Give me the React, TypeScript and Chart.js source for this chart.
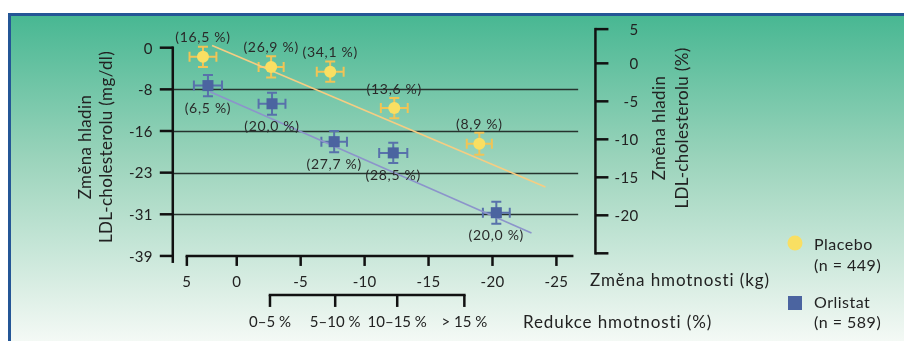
import React, { useEffect, useRef } from "react";
import { Chart, registerables } from "chart.js";

Chart.register(...registerables);

// ---- data ----
const placeboKg = [2.64, -2.69, -7.31, -12.32, -18.97];
const placeboLdl = [-1.7, -3.6, -4.5, -11.3, -18.0];
const placeboKgErr = [1.05, 0.98, 1.05, 1.05, 0.98];
const placeboLdlErr = [1.9, 2.0, 1.9, 1.9, 2.05];
const placeboLabels = ["(16,5 %)", "(26,9 %)", "(34,1 %)", "(13,6 %)", "(8,9 %)"];

const orlistatKg = [2.25, -2.76, -7.62, -12.24, -20.3];
const orlistatLdl = [-7.1, -10.5, -17.6, -19.7, -30.9];
const orlistatKgErr = [1.1, 1.05, 1.0, 1.1, 1.05];
const orlistatLdlErr = [2.0, 2.05, 2.0, 1.9, 2.05];
const orlistatLabels = ["(6,5 %)", "(20,0 %)", "(27,7 %)", "(28,5 %)", "(20,0 %)"];

const placeboTrendKg = [1.93, -24.14];
const placeboTrendLdl = [0.4, -26.1];
const orlistatTrendKg = [2.08, -23.05];
const orlistatTrendLdl = [-8.25, -34.7];

// left axis (mg/dl): evenly spaced ticks
const leftTickStep = 7.8;
const leftTickLabels = ["0", "-8", "-16", "-23", "-31", "-39"];
const gridTickIndices = [1, 2, 3, 4];

// right axis (%)
const rightTickValues = [4.5, 0, -5, -10, -15, -20, -25];
const rightTickLabels = ["5", "0", "-5", "-10", "-15", "-20", ""];

// bottom axis (kg)
const kgTickValues = [3.9, 0, -5, -10, -15, -20, -25];
const kgTickLabels = ["5", "0", "-5", "-10", "-15", "-20", "-25"];
const kgAxisEnd = -26.33;
const leftAxisKg = 5;
const gridEndKg = -26.7;
const rightAxisKg = -28.05;

// weight reduction axis (%), positioned on kg scale
const reductionTickKg = [-2.6, -7.7, -12.55, -17.8];
const reductionLabels = ["0\u20135 %", "5\u201310 %", "10\u201315 %", "> 15 %"];

const legendNames = ["Placebo", "Orlistat"];
const legendCounts = ["(n = 449)", "(n = 589)"];

const FONT = "Lato, 'Open Sans', sans-serif";
const TEXT = "#222";
const YELLOW = "#f9df62";
const YELLOW_BAR = "#f1c455";
const BLUE = "#4b64a0";
const BLUE_BAR = "#5871ab";

export default function App() {
  const ref = useRef<HTMLCanvasElement>(null);

  useEffect(() => {
    document.body.style.margin = "0";
    const canvas = ref.current!;

    const plugin = {
      id: "custom",
      beforeDraw(chart: any) {
        const ctx = chart.ctx;
        ctx.save();
        ctx.fillStyle = "#ffffff";
        ctx.fillRect(0, 0, chart.width, chart.height);
        const g = ctx.createLinearGradient(0, 14, 0, chart.height);
        g.addColorStop(0, "#47b792");
        g.addColorStop(0.45, "#9cd4bc");
        g.addColorStop(1, "#f4f9f5");
        ctx.fillStyle = g;
        ctx.fillRect(9, 14, chart.width - 9, chart.height - 14);
        ctx.fillStyle = "#245696";
        ctx.fillRect(8, 13, chart.width - 8, 3);
        ctx.fillRect(8, 13, 3, chart.height - 13);
        ctx.restore();
      },
      beforeDatasetsDraw(chart: any) {
        const ctx = chart.ctx;
        const xs = chart.scales.x, ys = chart.scales.y;
        const X = (v: number) => xs.getPixelForValue(v);
        const Y = (v: number) => ys.getPixelForValue(v);
        ctx.save();
        // grid lines
        ctx.strokeStyle = "#26332e";
        ctx.lineWidth = 1.5;
        gridTickIndices.forEach((i) => {
          const y = Math.round(Y(-i * leftTickStep)) + 0.5;
          ctx.beginPath();
          ctx.moveTo(X(leftAxisKg), y);
          ctx.lineTo(X(gridEndKg), y);
          ctx.stroke();
        });
        // error bars
        const drawErr = (kg: number[], ldl: number[], kErr: number[], lErr: number[], color: string) => {
          ctx.strokeStyle = color;
          ctx.lineWidth = 2;
          const cap = 5;
          kg.forEach((k, i) => {
            const cx = X(k), cy = Y(ldl[i]);
            const x1 = X(k + kErr[i]), x2 = X(k - kErr[i]);
            const y1 = Y(ldl[i] + lErr[i]), y2 = Y(ldl[i] - lErr[i]);
            ctx.beginPath();
            ctx.moveTo(x1, cy); ctx.lineTo(x2, cy);
            ctx.moveTo(x1, cy - cap); ctx.lineTo(x1, cy + cap);
            ctx.moveTo(x2, cy - cap); ctx.lineTo(x2, cy + cap);
            ctx.moveTo(cx, y1); ctx.lineTo(cx, y2);
            ctx.moveTo(cx - cap, y1); ctx.lineTo(cx + cap, y1);
            ctx.moveTo(cx - cap, y2); ctx.lineTo(cx + cap, y2);
            ctx.stroke();
          });
        };
        drawErr(placeboKg, placeboLdl, placeboKgErr, placeboLdlErr, YELLOW_BAR);
        drawErr(orlistatKg, orlistatLdl, orlistatKgErr, orlistatLdlErr, BLUE_BAR);
        ctx.restore();
      },
      afterDraw(chart: any) {
        const ctx = chart.ctx;
        const xs = chart.scales.x, ys = chart.scales.y, y2s = chart.scales.y2;
        const X = (v: number) => xs.getPixelForValue(v);
        const Y = (v: number) => ys.getPixelForValue(v);
        const Y2 = (v: number) => y2s.getPixelForValue(v);
        const spacing = (px: number) => { (ctx as any).letterSpacing = `${px}px`; };
        ctx.save();
        ctx.strokeStyle = "#111";
        ctx.fillStyle = TEXT;
        ctx.lineWidth = 2.5;
        ctx.lineCap = "butt";
        const line = (a: number, b: number, c: number, d: number) => {
          ctx.beginPath(); ctx.moveTo(a, b); ctx.lineTo(c, d); ctx.stroke();
        };

        // left axis
        const ax = X(leftAxisKg);
        const yBottom = Y(-39);
        line(ax, Y(0) - 1.25, ax, yBottom + 7);
        ctx.font = `15px ${FONT}`;
        spacing(0.3);
        ctx.textAlign = "right";
        ctx.textBaseline = "middle";
        leftTickLabels.forEach((lab, i) => {
          const y = Y(-i * leftTickStep);
          line(ax - 13, y, ax, y);
          ctx.fillText(lab, ax - 20, y + 1);
        });

        // kg axis
        line(X(kgTickValues[0]) - 1.25, yBottom, X(kgAxisEnd), yBottom);
        ctx.textAlign = "center";
        kgTickValues.forEach((v, i) => {
          const x = X(v);
          line(x, yBottom, x, yBottom + 10);
          ctx.fillText(kgTickLabels[i], x, yBottom + 26);
        });

        // reduction axis
        const ry = yBottom + 39;
        line(X(reductionTickKg[0]) - 1.25, ry, X(reductionTickKg[reductionTickKg.length - 1]) + 1.25, ry);
        spacing(0);
        reductionTickKg.forEach((v, i) => {
          const x = X(v);
          line(x, ry, x, ry + 12);
          ctx.fillText(reductionLabels[i], x, ry + 27);
        });

        // right axis
        spacing(0.3);
        const rx = X(rightAxisKg);
        line(rx, Y2(rightTickValues[0]) - 1.25, rx, Y2(rightTickValues[rightTickValues.length - 1]) + 1.25);
        ctx.textAlign = "right";
        rightTickValues.forEach((v, i) => {
          const y = Y2(v);
          line(rx, y, rx + 13, y);
          if (rightTickLabels[i]) ctx.fillText(rightTickLabels[i], rx + 43, y + 1);
        });

        // axis titles
        ctx.font = `17px ${FONT}`;
        spacing(0.9);
        ctx.textAlign = "left";
        ctx.fillText("Změna hmotnosti (kg)", 590, 281);
        ctx.fillText("Redukce hmotnosti (%)", 523, 323);

        const vTitle = (l1: string, l2: string, x1: number, x2: number, cy: number) => {
          ctx.save();
          ctx.translate(x1, cy);
          ctx.rotate(-Math.PI / 2);
          ctx.textAlign = "center";
          ctx.fillText(l1, 0, 0);
          ctx.restore();
          ctx.save();
          ctx.translate(x2, cy);
          ctx.rotate(-Math.PI / 2);
          ctx.textAlign = "center";
          ctx.fillText(l2, 0, 0);
          ctx.restore();
        };
        spacing(0.35);
        vTitle("Změna hladin", "LDL-cholesterolu (mg/dl)", 86, 107, 147);
        vTitle("Změna hladin", "LDL-cholesterolu (%)", 660, 683, 128);

        // point labels
        ctx.font = `14px ${FONT}`;
        spacing(0.7);
        ctx.textAlign = "center";
        ctx.fillStyle = "#2a2a2a";
        placeboKg.forEach((k, i) => ctx.fillText(placeboLabels[i], X(k), Y(placeboLdl[i]) - 19));
        orlistatKg.forEach((k, i) => ctx.fillText(orlistatLabels[i], X(k), Y(orlistatLdl[i]) + 23));

        // legend
        ctx.fillStyle = YELLOW;
        ctx.beginPath();
        ctx.arc(795, 243, 7.5, 0, Math.PI * 2);
        ctx.fill();
        ctx.fillStyle = BLUE;
        ctx.fillRect(788, 296, 14, 14);
        ctx.fillStyle = TEXT;
        ctx.font = `16px ${FONT}`;
        spacing(0.5);
        ctx.textAlign = "left";
        ctx.fillText(legendNames[0], 814, 245);
        ctx.fillText(legendCounts[0], 814, 266);
        ctx.fillText(legendNames[1], 814, 303);
        ctx.fillText(legendCounts[1], 814, 323);
        spacing(0);
        ctx.restore();
      },
    };

    const chart = new Chart(canvas, {
      type: "scatter",
      data: {
        datasets: [
          {
            type: "line",
            label: "Placebo trend",
            data: placeboTrendKg.map((k, i) => ({ x: k, y: placeboTrendLdl[i] })),
            borderColor: "#f6cd82",
            borderWidth: 1.6,
            pointRadius: 0,
            fill: false,
            order: 3,
          },
          {
            type: "line",
            label: "Orlistat trend",
            data: orlistatTrendKg.map((k, i) => ({ x: k, y: orlistatTrendLdl[i] })),
            borderColor: "#8c94cb",
            borderWidth: 1.6,
            pointRadius: 0,
            fill: false,
            order: 3,
          },
          {
            label: "Placebo",
            data: placeboKg.map((k, i) => ({ x: k, y: placeboLdl[i] })),
            pointStyle: "circle",
            pointRadius: 6,
            backgroundColor: YELLOW,
            borderWidth: 0,
            order: 1,
          },
          {
            label: "Orlistat",
            data: orlistatKg.map((k, i) => ({ x: k, y: orlistatLdl[i] })),
            pointStyle: "rect",
            pointRadius: 7.8,
            backgroundColor: BLUE,
            borderWidth: 0,
            order: 1,
          },
        ],
      } as any,
      options: {
        animation: false,
        responsive: false,
        devicePixelRatio: 1,
        layout: { padding: { left: 160, right: 322, top: 21, bottom: 37 } },
        plugins: { legend: { display: false }, tooltip: { enabled: false } },
        scales: {
          x: { type: "linear", min: -27, max: 6, reverse: true, display: false },
          y: { type: "linear", min: -48, max: 5, display: false },
          y2: { type: "linear", min: -31.67, max: 5.57, display: false },
        },
        clip: false as any,
      } as any,
      plugins: [plugin],
    });
    return () => chart.destroy();
  }, []);

  return (
    <div style={{ width: 904, height: 341 }}>
      <canvas ref={ref} width={904} height={341} style={{ display: "block" }} />
    </div>
  );
}
